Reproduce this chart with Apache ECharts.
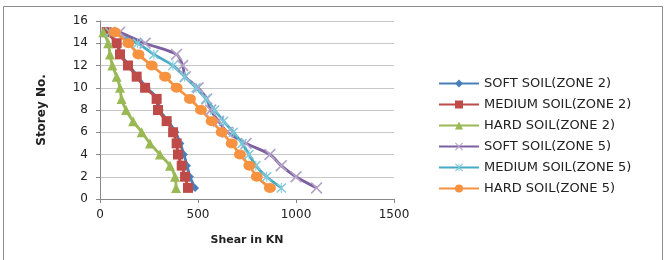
<!DOCTYPE html>
<html>
<head>
<meta charset="utf-8">
<script src="https://cdn.jsdelivr.net/npm/echarts@6/dist/echarts.min.js"></script>
<style>
  html, body { margin: 0; padding: 0; background: #fff; }
  #chart { width: 666px; height: 260px; }
</style>
</head>
<body>
<div id="chart"></div>
<script>
// storey numbers (y values) and shear in KN for each series
var storeys = [1, 2, 3, 4, 5, 6, 7, 8, 9, 10, 11, 12, 13, 14, 15];
var seriesNames = ['SOFT SOIL(ZONE 2)', 'MEDIUM SOIL(ZONE 2)', 'HARD SOIL(ZONE 2)',
                   'SOFT SOIL(ZONE 5)', 'MEDIUM SOIL(ZONE 5)', 'HARD SOIL(ZONE 5)'];
var softZone2   = [485, 459, 444, 428, 410, 385, 348, 305, 295, 238, 192, 150, 106, 88, 36];
var mediumZone2 = [449, 434, 417, 398, 391, 373, 340, 296, 289, 230, 187, 143, 102, 85, 34];
var hardZone2   = [388, 383, 357, 306, 255, 213, 169, 133, 110, 102, 85, 63, 51, 42, 17];
var softZone5   = [1105, 1000, 925, 867, 745, 650, 605, 565, 545, 500, 435, 422, 390, 230, 100];
var mediumZone5 = [925, 850, 795, 760, 725, 680, 630, 585, 540, 490, 432, 372, 275, 192, 50];
var hardZone5   = [867, 800, 762, 714, 672, 621, 570, 515, 459, 391, 332, 264, 196, 145, 75];
var xTicks = [0, 500, 1000, 1500];

function pts(vals) {
  return vals.map(function (v, i) { return [v, storeys[i]]; });
}

var crossPath = 'path://M0,1L1,0L5,4L9,0L10,1L6,5L10,9L9,10L5,6L1,10L0,9L4,5Z';
var starPath = 'path://M0,1L1,0L4.5,3.5L4.5,0L5.5,0L5.5,3.5L9,0L10,1L6,5L10,9L9,10L5.5,6.5L5.5,10L4.5,10L4.5,6.5L1,10L0,9L4,5Z';

var myChart = echarts.init(document.getElementById('chart'));

function mk(name, vals, color, symbol, size, markerColor) {
  return {
    name: name,
    type: 'line',
    data: pts(vals),
    smooth: 0.3,
    symbol: symbol,
    symbolSize: size,
    lineStyle: { color: color, width: 2.8 },
    itemStyle: { color: markerColor || color, borderWidth: 0 },
    emphasis: { disabled: true }
  };
}

myChart.setOption({
  animation: false,
  textStyle: { fontFamily: 'DejaVu Sans' },
  graphic: [{
    type: 'rect',
    shape: { x: 3.5, y: 6.5, width: 659, height: 260 },
    style: { fill: 'none', stroke: '#8c8c8c', lineWidth: 1 },
    silent: true
  }],
  grid: { left: 100, right: 272, top: 21, bottom: 61 },
  legend: {
    orient: 'vertical',
    left: 433,
    top: 72,
    itemWidth: 40,
    itemHeight: 10,
    itemGap: 8,
    textStyle: { fontSize: 13, color: '#222', fontFamily: 'DejaVu Sans' },
    data: seriesNames
  },
  xAxis: {
    type: 'value',
    min: xTicks[0],
    max: xTicks[xTicks.length - 1],
    interval: 500,
    name: 'Shear in KN',
    nameLocation: 'middle',
    nameGap: 36,
    nameTextStyle: { fontWeight: 'bold', fontSize: 11, color: '#222' },
    axisLine: { lineStyle: { color: '#888' } },
    axisTick: { show: true, length: 4, lineStyle: { color: '#888' } },
    axisLabel: { fontSize: 12, color: '#222', margin: 10, formatter: function (v) { return String(v); } },
    splitLine: { show: false }
  },
  yAxis: {
    type: 'value',
    min: 0,
    max: 16,
    interval: 2,
    name: 'Storey No.',
    nameLocation: 'middle',
    nameGap: 52,
    nameTextStyle: { fontWeight: 'bold', fontSize: 12, color: '#222' },
    axisLine: { show: true, lineStyle: { color: '#888' } },
    axisTick: { show: true, length: 4, lineStyle: { color: '#888' } },
    axisLabel: { fontSize: 12, color: '#222', margin: 12 },
    splitLine: { show: true, lineStyle: { color: '#c8c8c8', width: 1 } }
  },
  series: [
    mk(seriesNames[0], softZone2, '#4A7EBB', 'diamond', 8),
    mk(seriesNames[1], mediumZone2, '#BE4B48', 'rect', 10),
    mk(seriesNames[2], hardZone2, '#98B954', 'triangle', 10),
    mk(seriesNames[3], softZone5, '#7D60A0', crossPath, 12, '#B3A2C7'),
    mk(seriesNames[4], mediumZone5, '#46AAC5', starPath, 10, '#7FC8DA'),
    mk(seriesNames[5], hardZone5, '#F69240', 'circle', [12, 10])
  ]
});
</script>
</body>
</html>
